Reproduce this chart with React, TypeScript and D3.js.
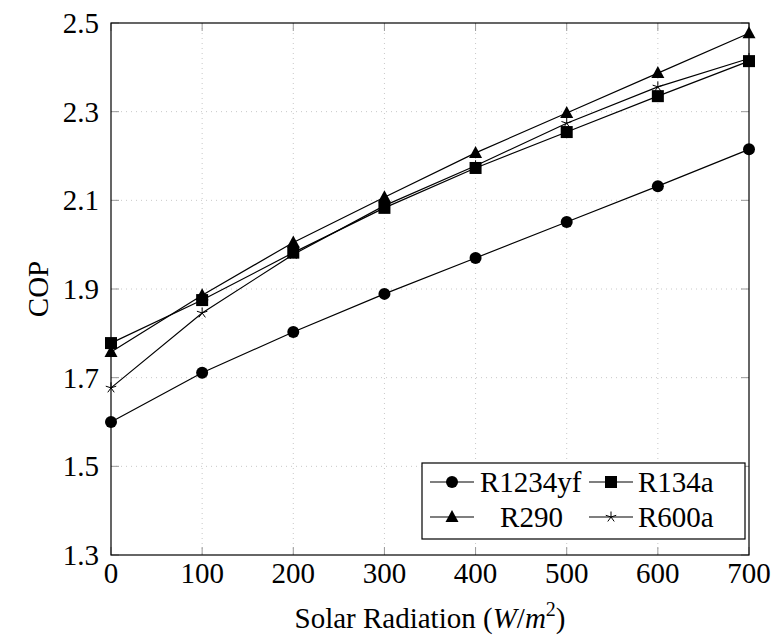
import React, { useEffect, useRef } from "react";
import * as d3 from "d3";

const xValues = [0, 100, 200, 300, 400, 500, 600, 700];
const r1234yf = [1.6, 1.711, 1.803, 1.889, 1.97, 2.051, 2.132, 2.215];
const r134a = [1.778, 1.875, 1.982, 2.083, 2.173, 2.254, 2.335, 2.414];
const r290 = [1.758, 1.886, 2.005, 2.107, 2.207, 2.297, 2.387, 2.477];
const r600a = [1.677, 1.846, 1.978, 2.088, 2.178, 2.274, 2.356, 2.42];
const xTicks = [0, 100, 200, 300, 400, 500, 600, 700];
const yTicks = [1.3, 1.5, 1.7, 1.9, 2.1, 2.3, 2.5];

const seriesList = [
  { name: "R1234yf", values: r1234yf, marker: "circle" },
  { name: "R134a", values: r134a, marker: "square" },
  { name: "R290", values: r290, marker: "triangle" },
  { name: "R600a", values: r600a, marker: "star" },
];

const W = 774;
const H = 641;
const L = 111, R = 749, T = 23, B = 555;
const FONT = "Liberation Serif";
const FS = 29;

function Marker({ type, x, y }: { type: string; x: number; y: number }) {
  if (type === "circle") return <circle cx={x} cy={y} r={6} fill="black" />;
  if (type === "square") return <rect x={x - 6} y={y - 6} width={12} height={12} fill="black" />;
  if (type === "triangle")
    return <path d={`M${x},${y - 7} L${x + 6.5},${y + 5} L${x - 6.5},${y + 5} Z`} fill="black" />;
  const arms = d3.range(5).map((i) => {
    const a = (-90 + i * 72) * Math.PI / 180;
    return `M${x},${y} L${x + 5.5 * Math.cos(a)},${y + 5.5 * Math.sin(a)}`;
  });
  return <path d={arms.join(" ")} stroke="black" strokeWidth={1} fill="none" />;
}

function T_({ children, ...rest }: any) {
  return (
    <text style={{ fontFamily: FONT, fontSize: FS }} {...rest}>
      {children}
    </text>
  );
}

export default function App() {
  const ref = useRef<SVGSVGElement>(null);
  useEffect(() => {
    if (ref.current) {
      d3.select(ref.current).selectAll("text").style("font-family", FONT, "important");
    }
  }, []);
  const x = d3.scaleLinear().domain([0, 700]).range([L, R]);
  const y = d3.scaleLinear().domain([1.3, 2.5]).range([B, T]);
  const line = d3
    .line<number>()
    .x((_, i) => x(xValues[i]))
    .y((d) => y(d));

  const legendX = 422, legendY = 463, legendW = 323, legendH = 76;
  const legendItems = [
    { s: seriesList[0], lx: 430, row: 0, tx: 480, anchor: "start" },
    { s: seriesList[1], lx: 589, row: 0, tx: 638, anchor: "start" },
    { s: seriesList[2], lx: 430, row: 1, tx: 531.5, anchor: "middle" },
    { s: seriesList[3], lx: 589, row: 1, tx: 638, anchor: "start" },
  ];

  return (
    <svg ref={ref} width={W} height={H} style={{ position: "absolute", left: 0, top: 0 }}>
      <style>{`text, tspan { font-family: 'Liberation Serif', 'Times New Roman', serif !important; }`}</style>
      <rect x={0} y={0} width={W} height={H} fill="white" />
      {xTicks.slice(1, -1).map((t) => (
        <line key={"gx" + t} x1={x(t)} x2={x(t)} y1={T} y2={B} stroke="#c8c8c8" strokeWidth={1} strokeDasharray="1 4" />
      ))}
      {yTicks.slice(1, -1).map((t) => (
        <line key={"gy" + t} x1={L} x2={R} y1={y(t)} y2={y(t)} stroke="#c8c8c8" strokeWidth={1} strokeDasharray="1 4" />
      ))}
      {xTicks.map((t) => (
        <g key={"tx" + t}>
          <line x1={x(t)} x2={x(t)} y1={B} y2={B - 8} stroke="#999" strokeWidth={1} />
          <line x1={x(t)} x2={x(t)} y1={T} y2={T + 8} stroke="#999" strokeWidth={1} />
          <T_ x={x(t)} y={583} textAnchor="middle">{t}</T_>
        </g>
      ))}
      {yTicks.map((t) => (
        <g key={"ty" + t}>
          <line x1={L} x2={L + 8} y1={y(t)} y2={y(t)} stroke="#999" strokeWidth={1} />
          <line x1={R} x2={R - 8} y1={y(t)} y2={y(t)} stroke="#999" strokeWidth={1} />
          <T_ x={99} y={y(t) + 10} textAnchor="end">{t.toFixed(1)}</T_>
        </g>
      ))}
      {seriesList.map((s) => (
        <g key={s.name}>
          <path d={line(s.values) || ""} fill="none" stroke="black" strokeWidth={1.2} />
          {s.values.map((v, i) => (
            <Marker key={i} type={s.marker} x={x(xValues[i])} y={y(v)} />
          ))}
        </g>
      ))}
      <rect x={L} y={T} width={R - L} height={B - T} fill="none" stroke="black" strokeWidth={1.2} />
      <rect x={legendX} y={legendY} width={legendW} height={legendH} fill="white" stroke="black" strokeWidth={1.2} />
      {legendItems.map((it) => {
        const cy = legendY + 19 + it.row * 35;
        return (
          <g key={it.s.name}>
            <line x1={it.lx} x2={it.lx + 44} y1={cy} y2={cy} stroke="black" strokeWidth={1.2} />
            <Marker type={it.s.marker} x={it.lx + 22} y={cy} />
            <T_ x={it.tx} y={cy + 10} textAnchor={it.anchor}>{it.s.name}</T_>
          </g>
        );
      })}
      <T_ x={430} y={628} textAnchor="middle">
        Solar Radiation (<tspan fontStyle="italic">W</tspan>/<tspan fontStyle="italic">m</tspan>
        <tspan style={{ fontSize: 20 }} dy={-12}>2</tspan>
        <tspan dy={12}>)</tspan>
      </T_>
      <T_ transform={`translate(48,${y(1.9)}) rotate(-90)`} textAnchor="middle">COP</T_>
    </svg>
  );
}
